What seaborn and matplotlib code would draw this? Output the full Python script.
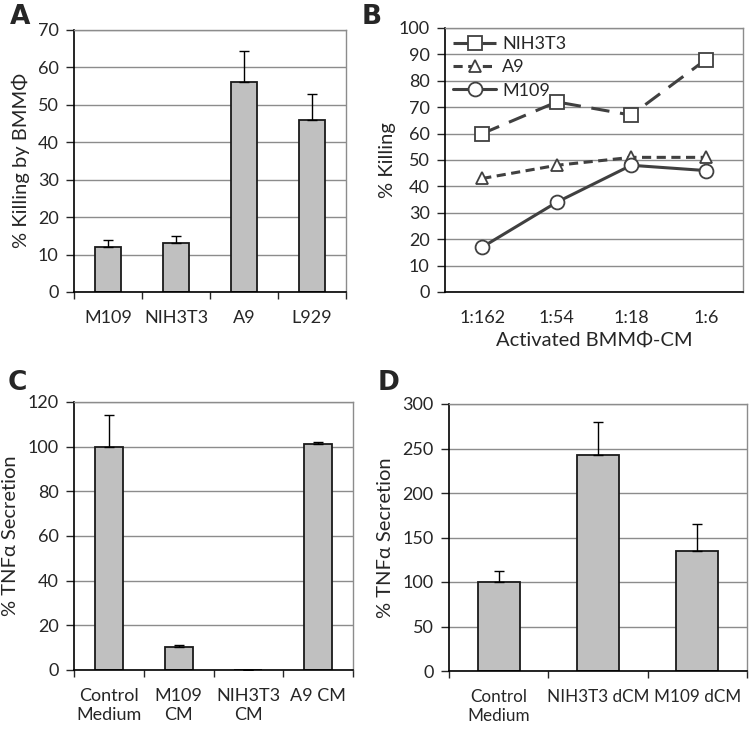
import numpy as np
import pandas as pd
import matplotlib
matplotlib.use("Agg")
import matplotlib.pyplot as plt
import seaborn as sns

# ---- data ----
a_cells = ["M109", "NIH3T3", "A9", "L929"]
a_kill = [12, 13, 56, 46]
a_err = [2, 2, 8.5, 7]

b_ratio = ["1:162", "1:54", "1:18", "1:6"]
b_nih3t3 = [60, 72, 67, 88]
b_a9 = [43, 48, 51, 51]
b_m109 = [17, 34, 48, 46]

c_groups = ["Control\nMedium", "M109\nCM", "NIH3T3\nCM", "A9 CM"]
c_tnf = [100, 10.5, 0.2, 101]
c_err = [14, 0.7, 0, 1]

d_groups = ["Control\nMedium", "NIH3T3 dCM", "M109 dCM"]
d_tnf = [100, 243, 135]
d_err = [12, 37, 30]

sns.set_style("white")
plt.rcParams["font.family"] = ["Lato", "DejaVu Sans"]

W, H = 752, 729
fig = plt.figure(figsize=(W / 100, H / 100), dpi=100)


def box(l, t, r, b):
    return [l / W, 1 - b / H, (r - l) / W, (b - t) / H]


BAR = "#c0c0c0"
EDGE = "#1a1a1a"
GRID = "#8c8c8c"
LINE = "#404040"
TICK_FS = 13
LAB_FS = 14.5


def style_axes(ax, ymax, step):
    ax.set_ylim(0, ymax)
    ax.set_yticks(np.arange(0, ymax + 1, step))
    ax.yaxis.grid(True, color=GRID, lw=1)
    ax.set_axisbelow(True)
    for s in ["left", "bottom"]:
        ax.spines[s].set_color("black")
        ax.spines[s].set_linewidth(1.2)
    for s in ["top", "right"]:
        ax.spines[s].set_color(GRID)
        ax.spines[s].set_linewidth(1)
    ax.tick_params(axis="y", left=True, length=6, width=1,
                   labelsize=TICK_FS, pad=5)
    ax.tick_params(axis="x", labelsize=TICK_FS)


def bar_panel(ax, cats, vals, errs, ymax, step, ylabel, width, xfs=TICK_FS):
    sns.barplot(x=cats, y=vals, color=BAR, edgecolor=EDGE, linewidth=1.3,
                width=width, saturation=1, ax=ax)
    x = np.arange(len(cats))
    ax.errorbar(x, vals, yerr=[np.zeros(len(vals)), errs], fmt="none",
                ecolor="black", elinewidth=1, capsize=3.5, capthick=1)
    style_axes(ax, ymax, step)
    ax.set_xlim(-0.5, len(cats) - 0.5)
    ax.set_xticks(np.arange(-0.5, len(cats)), minor=True)
    ax.tick_params(axis="x", which="major", length=0, pad=13, labelsize=xfs)
    ax.tick_params(axis="x", which="minor", bottom=True, length=5, width=1)
    ax.set_ylabel(ylabel, fontsize=LAB_FS, labelpad=6)


# A
axA = fig.add_axes(box(74, 30, 346, 292))
bar_panel(axA, a_cells, a_kill, a_err, 70, 10, "% Killing by BMMΦ", 0.38)

# B
axB = fig.add_axes(box(445, 28, 743, 292))
xb = np.arange(len(b_ratio))
series = [("NIH3T3", b_nih3t3, "s", (0, (6, 3.5))),
          ("A9", b_a9, "^", (0, (3, 1.8))),
          ("M109", b_m109, "o", "-")]
for name, vals, mk, ls in series:
    sns.lineplot(x=xb, y=vals, ax=axB, color=LINE, lw=2.2, linestyle=ls,
                 marker=mk, markersize=10 if mk != "^" else 9,
                 markerfacecolor="white", markeredgecolor=LINE,
                 markeredgewidth=1.3, label=name)
style_axes(axB, 100, 10)
axB.set_xlim(-0.5, len(b_ratio) - 0.5)
axB.set_xticks(xb)
axB.set_xticklabels(b_ratio)
axB.tick_params(axis="x", length=0, pad=13)
axB.set_ylabel("% Killing", fontsize=LAB_FS, labelpad=2)
axB.set_xlabel("Activated BMMΦ-CM", fontsize=LAB_FS, labelpad=4)
axB.legend(loc="upper left", frameon=False, fontsize=13, handlelength=2.4,
           handletextpad=0.3, labelspacing=0.4, borderaxespad=0.35,
           borderpad=0.1)

# C
axC = fig.add_axes(box(74, 402, 353, 670))
bar_panel(axC, c_groups, c_tnf, c_err, 120, 20, "% TNFα Secretion", 0.4)

# D
axD = fig.add_axes(box(449, 404, 747, 671))
bar_panel(axD, d_groups, d_tnf, d_err, 300, 50, "% TNFα Secretion", 0.42,
          xfs=12.3)

for lab, x, y in [("A", 10, 4), ("B", 362, 4), ("C", 8, 370), ("D", 378, 370)]:
    fig.text(x / W, 1 - y / H, lab, fontsize=19, fontweight="bold",
             va="top", ha="left", family="DejaVu Sans")

fig.savefig("out.png", dpi=100)
